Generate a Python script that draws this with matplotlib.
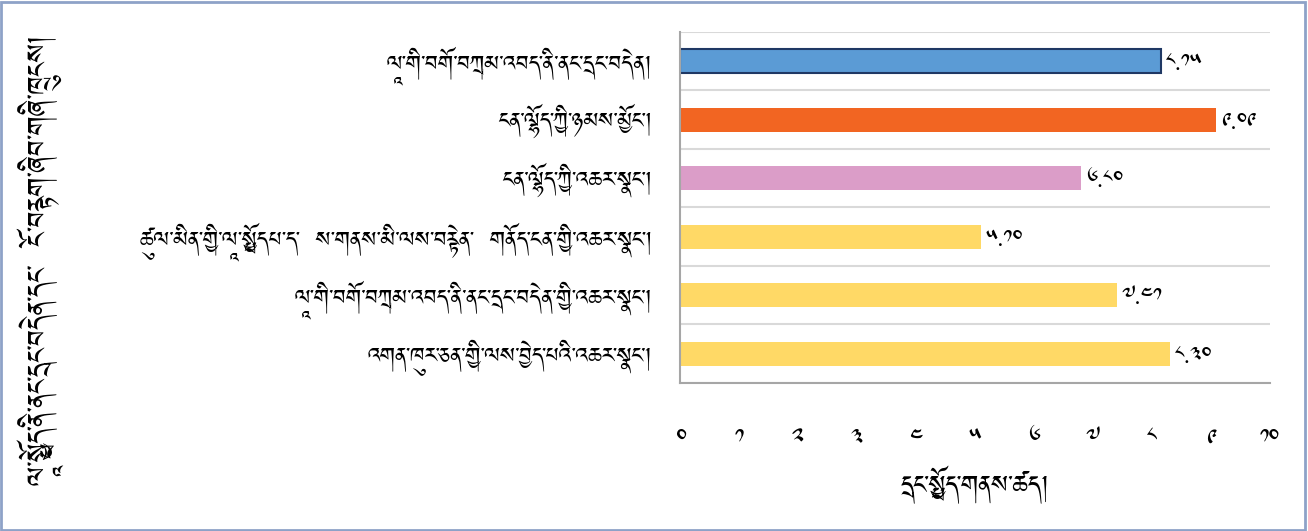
import numpy as np
import matplotlib
matplotlib.use('Agg')
import matplotlib.pyplot as plt
from matplotlib.patches import Rectangle
from matplotlib.ticker import FuncFormatter

plt.rcParams['font.family'] = ['Jomolhari', 'DejaVu Sans']

# data, top to bottom as in the chart
labels = [
    'ལཱ་གི་བགོ་བཀྲམ་འབད་ནི་ནང་དྲང་བདེན།',
    'ངན་ལྷོད་ཀྱི་ཉམས་མྱོང་།',
    'ངན་ལྷོད་ཀྱི་འཆར་སྣང་།',
    'ཚུལ་མིན་གྱི་ལཱ་སྤྱོདཔ་ད་  ས་གནས་མི་ལས་བརྟེན་  གནོད་ངན་གྱི་འཆར་སྣང་།',
    'ལཱ་གི་བགོ་བཀྲམ་འབད་ནི་ནང་དྲང་བདེན་གྱི་འཆར་སྣང་།',
    'འགན་ཁུར་ཅན་གྱི་ལས་བྱེད་པའི་འཆར་སྣང་།',
]
values = [8.15, 9.09, 6.80, 5.10, 7.41, 8.30]
colors = ['#5B9BD5', '#F26522', '#DB9DC8', '#FFD966', '#FFD966', '#FFD966']
xlabel = 'དྲང་སྤྱོད་གནས་ཚད།'
ylabel = 'ལཱ་སྤྱོད་ནི་ནང་དྲང་བདེན་དང་  ངོ་བརྟག་ཞིབ་གཞི་ཁྲུངས།'

tib = str.maketrans('0123456789', '༠༡༢༣༤༥༦༧༨༩')

def to_tib(s):
    return s.translate(tib)

fig = plt.figure(figsize=(13.08, 5.31), dpi=100)
ax = fig.add_axes([0.520, 0.279, 0.451, 0.661])

y = np.arange(len(values))
bars = ax.barh(y, values, height=0.41, color=colors)
bars[0].set_edgecolor('#1F3864')
bars[0].set_linewidth(1.5)

ax.set_xlim(0, 10)
ax.set_ylim(len(values) - 0.5, -0.5)
ax.set_xticks(range(0, 11))
ax.xaxis.set_major_formatter(FuncFormatter(lambda v, p: to_tib('%d' % v)))
ax.set_yticks(y)
ax.set_yticklabels(labels, fontsize=19.5)
ax.tick_params(axis='y', length=0, pad=20)
ax.tick_params(axis='x', length=0, pad=32, labelsize=17)

for b in range(len(values) + 1):
    ax.axhline(b - 0.5, color='#D9D9D9', lw=1.5, zorder=0)

for s in ['top', 'right']:
    ax.spines[s].set_visible(False)
ax.spines['left'].set_color('#A6A6A6')
ax.spines['bottom'].set_color('#A6A6A6')
ax.spines['left'].set_linewidth(1.5)
ax.spines['bottom'].set_linewidth(1.5)

for i, v in enumerate(values):
    ax.text(v + 0.08, i + 0.06, to_tib('%.2f' % v), va='center', ha='left', fontsize=16)

ax.set_xlabel(xlabel, fontsize=22, labelpad=12)
fig.text(0.031, 0.51, ylabel, rotation=90, ha='center', va='center', fontsize=24)

fig.patches.append(Rectangle((0.001, 0.002), 0.997, 0.995, transform=fig.transFigure,
                             fill=False, edgecolor='#8EA2C8', lw=2))

fig.savefig('out.png')
